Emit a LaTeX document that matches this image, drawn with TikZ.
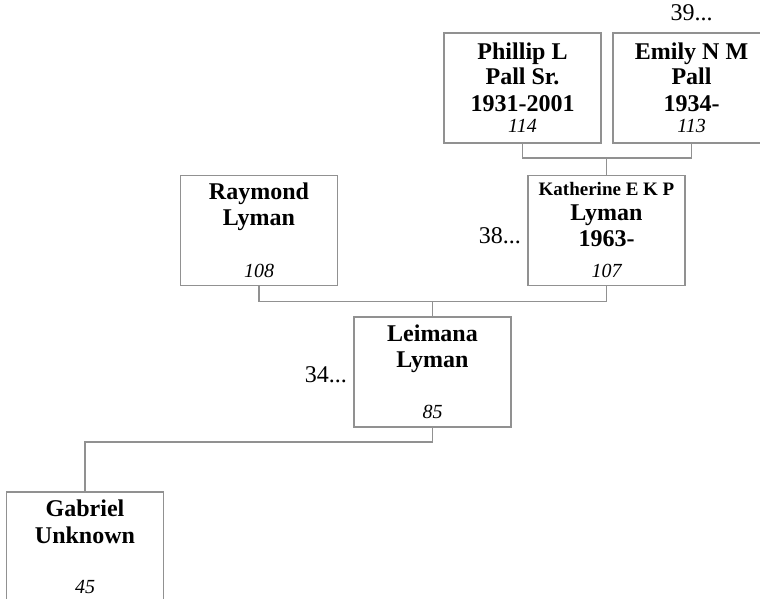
\documentclass[tikz,border=0pt]{standalone}
\usepackage{fontspec}
\setmainfont{Liberation Serif}
\definecolor{linegray}{RGB}{145,145,145}
\begin{document}
\begin{tikzpicture}[x=1pt,y=-1pt,
  person/.style={draw=linegray, line width=1.3pt, minimum width=157pt, minimum height=110pt, inner sep=0pt, outer sep=0pt},
  link/.style={draw=linegray, line width=1.3pt},
  nm/.style={font=\fontsize{24}{26}\selectfont\bfseries, anchor=base, inner sep=0pt},
  nmsmall/.style={font=\fontsize{19}{22}\selectfont\bfseries, anchor=base, inner sep=0pt},
  idn/.style={font=\fontsize{20}{22}\selectfont\itshape, anchor=base, inner sep=0pt},
  more/.style={font=\fontsize{24}{26}\selectfont, inner sep=0pt}]
\path[use as bounding box, clip] (0,0) rectangle (760,598);

% boxes
\node[person] (phillip) at (522.5,88) {};
\node[person] (emily) at (691.5,88) {};
\node[person] (raymond) at (259,230.5) {};
\node[person] (katherine) at (606.5,230.5) {};
\node[person] (leimana) at (432.5,372) {};
\node[person] (gabriel) at (85,547) {};

% texts
\node[nm] (p1) at (522.5,59.7) {Phillip L};
\node[nm] (p2) at (522.5,84.7) {Pall Sr.};
\node[nm] (p3) at (522.5,111) {1931-2001};
\node[idn] (p4) at (522.5,132) {114};

\node[nm] (e1) at (691.5,59.7) {Emily N M};
\node[nm] (e2) at (691.5,84.7) {Pall};
\node[nm] (e3) at (691.5,111) {1934-};
\node[idn] (e4) at (691.5,132) {113};

\node[nm] (r1) at (259,199.5) {Raymond};
\node[nm] (r2) at (259,225.5) {Lyman};
\node[idn] (r4) at (259,277) {108};

\node[nmsmall] (k1) at (606.5,195.3) {Katherine E K P};
\node[nm] (k2) at (606.5,220.3) {Lyman};
\node[nm] (k3) at (606.5,246) {1963-};
\node[idn] (k4) at (606.5,277) {107};

\node[nm] (l1) at (432.5,341) {Leimana};
\node[nm] (l2) at (432.5,367) {Lyman};
\node[idn] (l4) at (432.5,418) {85};

\node[nm] (g1) at (85,516.5) {Gabriel};
\node[nm] (g2) at (85,543) {Unknown};
\node[idn] (g4) at (85,593) {45};

% continuation labels
\node[more, anchor=base] (m39) at ([yshift=13pt]emily.north) {39...};
\node[more, anchor=base east] (m38) at ([xshift=-7pt,yshift=-13pt]katherine.west) {38...};
\node[more, anchor=base east] (m34) at ([xshift=-7pt,yshift=-10pt]leimana.west) {34...};

% connectors
\draw[link] (phillip.south) -- ++(0,15) -| (emily.south);
\draw[link] (katherine.north) -- ++(0,-18);
\draw[link] (raymond.south) -- ++(0,16) -| (katherine.south);
\draw[link] (leimana.north) -- ++(0,-16);
\draw[link] (leimana.south) -- ++(0,15) -| (gabriel.north);
\end{tikzpicture}
\end{document}
